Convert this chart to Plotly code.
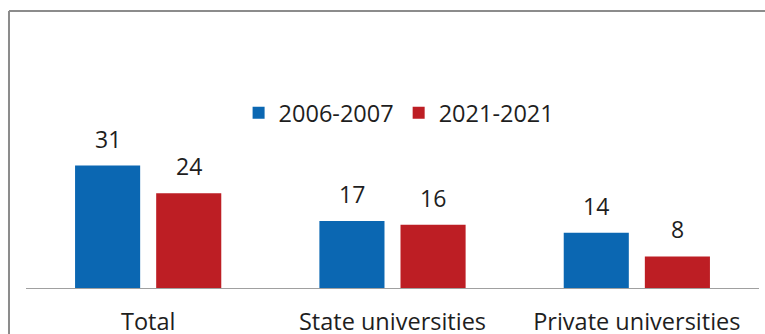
import plotly.graph_objects as go

# Share of students by type of university, two academic years
categories = ["Total", "State universities", "Private universities"]
series_names = ["2006-2007", "2021-2021"]
values_2006 = [31, 17, 14]
values_2021 = [24, 16, 8]
series_colors = ["#0B67B2", "#BD1E24"]

FONT = "Open Sans"
TEXT_COLOR = "#1E1E1E"
BARGAP = 0.336
BARGROUPGAP = 0.1975

fig = go.Figure()
for name, vals, color in zip(series_names, [values_2006, values_2021], series_colors):
    fig.add_trace(go.Bar(
        x=categories, y=vals, name=name,
        marker=dict(color=color, line=dict(width=0)),
        hoverinfo="x+y+name",
    ))

# value labels above each bar, placed at the bar centre of its group slot
n_series = 2
slot = (1 - BARGAP) / n_series
for s, vals in enumerate([values_2006, values_2021]):
    offset = -(1 - BARGAP) / 2 + slot * (s + 0.5)
    for i, v in enumerate(vals):
        fig.add_annotation(
            x=i + offset, y=v, xref="x", yref="y",
            text=str(v), showarrow=False,
            yanchor="bottom", yshift=9,
            font=dict(family=FONT, size=23, color=TEXT_COLOR),
        )

# frame lines along the top and left edges
frame = dict(color="#8C8C8C", width=2)
fig.add_shape(type="line", xref="paper", yref="paper",
              x0=-0.0232, x1=1.1, y0=1.0036, y1=1.0036, line=frame)
fig.add_shape(type="line", xref="paper", yref="paper",
              x0=-0.0232, x1=-0.0232, y0=1.0036, y1=-0.3, line=frame)

fig.update_layout(
    width=765, height=334,
    margin=dict(l=26, r=6, t=12, b=46, autoexpand=False),
    paper_bgcolor="white", plot_bgcolor="white",
    barmode="group", bargap=BARGAP, bargroupgap=BARGROUPGAP,
    font=dict(family=FONT, size=23.5, color=TEXT_COLOR),
    showlegend=True,
    legend=dict(
        orientation="h", x=0.509, xanchor="center", y=0.634, yanchor="middle",
        font=dict(family=FONT, size=23.5, color=TEXT_COLOR),
        bgcolor="rgba(0,0,0,0)", itemclick=False, itemdoubleclick=False,
    ),
    xaxis=dict(
        showline=True, linecolor="#A0A0A0", linewidth=1, automargin=False,
        showgrid=False, ticks="", ticklabelstandoff=13,
        tickfont=dict(family=FONT, size=23.5, color=TEXT_COLOR),
    ),
    yaxis=dict(range=[0, 69.9], visible=False, showgrid=False, zeroline=False,
               automargin=False),
)

fig.write_html("out.html")
